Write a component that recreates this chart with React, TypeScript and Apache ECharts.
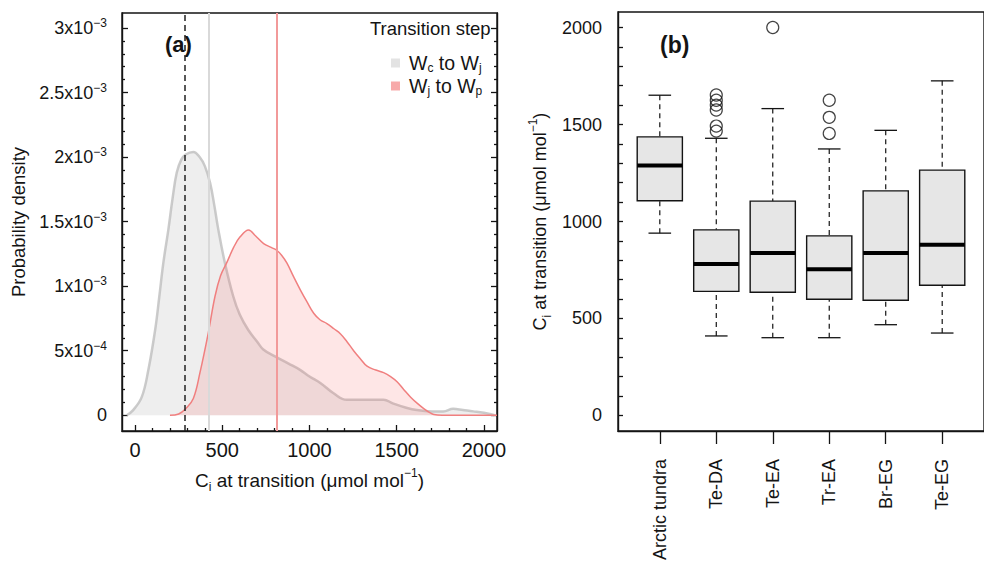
import React, { useEffect, useRef } from 'react';
import * as echarts from 'echarts';

const FONT = '"Liberation Sans", Arial, Helvetica, sans-serif';
const INK = '#141414';

// ---------- Panel (a): probability density of Ci at transition (density in units of 1e-3) ----------
const grayX = [-48, -11, 38, 76, 115, 139, 162, 191, 215, 239, 265, 290, 334, 370, 400, 430, 455, 477, 515, 563, 600, 649, 700, 735, 810, 880, 948, 1000, 1062, 1138, 1214, 1300, 1380, 1424, 1481, 1550, 1615, 1700, 1767, 1824, 1880, 1939, 2034, 2060];
const grayDensityE3 = [0, 0.04, 0.14, 0.35, 0.66, 0.92, 1.18, 1.44, 1.68, 1.88, 1.98, 2.02, 2.04, 2.0, 1.93, 1.8, 1.62, 1.44, 1.18, 0.92, 0.78, 0.66, 0.57, 0.51, 0.45, 0.4, 0.35, 0.3, 0.25, 0.17, 0.12, 0.12, 0.12, 0.12, 0.09, 0.06, 0.04, 0.03, 0.03, 0.05, 0.04, 0.03, 0.01, 0];
const redX = [200, 250, 290, 334, 372, 420, 458, 490, 525, 565, 601, 651, 690, 737, 780, 810, 840, 870, 910, 948, 985, 1024, 1060, 1100, 1140, 1178, 1215, 1253, 1290, 1330, 1380, 1425, 1465, 1502, 1540, 1580, 1620, 1657, 1690, 1713, 1760, 2075];
const redDensityE3 = [0, 0.01, 0.05, 0.13, 0.33, 0.64, 0.92, 1.08, 1.18, 1.3, 1.38, 1.435, 1.39, 1.33, 1.3, 1.28, 1.24, 1.18, 1.07, 0.97, 0.88, 0.79, 0.74, 0.71, 0.67, 0.63, 0.57, 0.5, 0.44, 0.38, 0.35, 0.33, 0.3, 0.26, 0.2, 0.14, 0.09, 0.05, 0.02, 0.005, 0, 0];
const seriesNames = ['Wc to Wj', 'Wj to Wp'];
const legendLabels = ['W{sub|c} to W{sub|j}', 'W{sub|j} to W{sub|p}'];
const refLineDashed = 287;
const refLineGray = 421;
const refLineRed = 810;

const xTicksA = [0, 500, 1000, 1500, 2000];
const xMinorA = [100, 200, 300, 400, 600, 700, 800, 900, 1100, 1200, 1300, 1400, 1600, 1700, 1800, 1900];
const yTicksA = [0, 0.5, 1, 1.5, 2, 2.5, 3];
const yTickLabelsA = ['0', '5x10{s|−4}', '1x10{s|−3}', '1.5x10{s|−3}', '2x10{s|−3}', '2.5x10{s|−3}', '3x10{s|−3}'];
const yMinorA = [0.1, 0.2, 0.3, 0.4, 0.6, 0.7, 0.8, 0.9, 1.1, 1.2, 1.3, 1.4, 1.6, 1.7, 1.8, 1.9, 2.1, 2.2, 2.3, 2.4, 2.6, 2.7, 2.8, 2.9];

// ---------- Panel (b): boxplots of Ci at transition by biome / PFT ----------
const categories = ['Arctic tundra', 'Te-DA', 'Te-EA', 'Tr-EA', 'Br-EG', 'Te-EG'];
const whiskerLow = [940, 410, 401, 401, 468, 425];
const quartile1 = [1107, 640, 635, 599, 594, 671];
const medians = [1289, 781, 837, 754, 837, 880];
const quartile3 = [1436, 957, 1105, 926, 1158, 1265];
const whiskerHigh = [1651, 1429, 1582, 1374, 1470, 1725];
const outlierCategory = [2, 2, 2, 2, 2, 2, 3, 4, 4, 4];
const outlierValue = [1652, 1625, 1600, 1575, 1492, 1466, 2000, 1625, 1537, 1454];
const yTicksB = [0, 500, 1000, 1500, 2000];
const yAllTicksB = [0, 100, 200, 300, 400, 500, 600, 700, 800, 900, 1000, 1100, 1200, 1300, 1400, 1500, 1600, 1700, 1800, 1900, 2000];
const xPositionsB = [1, 2, 3, 4, 5, 6];

const supRich = {
  s: { fontSize: 12, lineHeight: 12, verticalAlign: 'top', fontFamily: FONT, color: INK },
  sub: { fontSize: 12, lineHeight: 12, verticalAlign: 'bottom', fontFamily: FONT, color: INK },
};

export default function App() {
  const ref = useRef<HTMLDivElement>(null);
  useEffect(() => {
    if (!ref.current) return;
    const chart = echarts.init(ref.current, null, { renderer: 'svg' });

    const axisLine = { show: true, onZero: false, lineStyle: { color: INK, width: 1.4 } };
    const noLine = { show: false, onZero: false };
    const tickStyle = { color: INK, width: 1.3 };
    const labelBase = { fontFamily: FONT, fontSize: 18, color: INK };
    const plain = (v: number) => String(v);

    const boxData = categories.map((_, i) => [xPositionsB[i], whiskerLow[i], quartile1[i], medians[i], quartile3[i], whiskerHigh[i]]);
    const outlierData = outlierValue.map((v, i) => [outlierCategory[i], v]);

    const option: any = {
      animation: false,
      backgroundColor: '#ffffff',
      textStyle: { fontFamily: FONT },
      grid: [
        { left: 122, top: 13, width: 375, height: 418, show: true, borderColor: INK, borderWidth: 1.4, backgroundColor: 'transparent' },
        { left: 618, top: 12, width: 375, height: 419, show: true, borderColor: INK, borderWidth: 1.4, backgroundColor: 'transparent' },
      ],
      legend: {
        orient: 'vertical',
        left: 386,
        top: 47,
        icon: 'rect',
        itemWidth: 9,
        itemHeight: 9,
        itemGap: 1,
        selectedMode: false,
        data: [
          { name: seriesNames[0], itemStyle: { color: '#e3e3e3', borderWidth: 0 } },
          { name: seriesNames[1], itemStyle: { color: '#f7aaaa', borderWidth: 0 } },
        ],
        formatter: (n: string) => legendLabels[seriesNames.indexOf(n)],
        textStyle: { ...labelBase, fontSize: 19.5, lineHeight: 22, padding: [0, 0, 0, 4], rich: supRich },
      },
      xAxis: [
        {
          gridIndex: 0, type: 'value', min: -75, max: 2075, position: 'bottom',
          axisLine, splitLine: { show: false },
          axisTick: { show: true, inside: true, length: 6, customValues: xTicksA, lineStyle: tickStyle },
          axisLabel: { ...labelBase, fontSize: 20, customValues: xTicksA, margin: 9, formatter: plain },
          name: 'C{sub|i} at transition (μmol mol{s|−1})',
          nameLocation: 'middle', nameGap: 36,
          nameTextStyle: { ...labelBase, fontSize: 19, lineHeight: 26, rich: supRich },
        },
        {
          gridIndex: 0, type: 'value', min: -75, max: 2075, position: 'bottom',
          axisLine: noLine, splitLine: { show: false },
          axisTick: { show: true, inside: true, length: 3, customValues: xMinorA, lineStyle: tickStyle },
          axisLabel: { show: false },
        },
        {
          gridIndex: 1, type: 'value', min: 0.26, max: 6.74, position: 'bottom',
          axisLine, splitLine: { show: false },
          axisTick: { show: true, inside: false, length: 13, customValues: xPositionsB, lineStyle: tickStyle },
          axisLabel: {
            ...labelBase, customValues: xPositionsB, rotate: 90, margin: 28,
            formatter: (v: number) => categories[Math.round(v) - 1] ?? '',
          },
        },
      ],
      yAxis: [
        {
          gridIndex: 0, type: 'value', min: -0.122, max: 3.116, position: 'left',
          axisLine, splitLine: { show: false },
          axisTick: { show: true, inside: true, length: 6, customValues: yTicksA, lineStyle: tickStyle },
          axisLabel: {
            ...labelBase, customValues: yTicksA, margin: 15, lineHeight: 22, rich: supRich,
            formatter: (v: number) => {
              let best = 0;
              yTicksA.forEach((t, i) => { if (Math.abs(t - v) < Math.abs(yTicksA[best] - v)) best = i; });
              return yTickLabelsA[best];
            },
          },
          name: 'Probability density', nameLocation: 'middle', nameGap: 94,
          nameTextStyle: { ...labelBase, fontSize: 18.5 },
        },
        {
          gridIndex: 0, type: 'value', min: -0.122, max: 3.116, position: 'left',
          axisLine: noLine, splitLine: { show: false },
          axisTick: { show: true, inside: true, length: 3, customValues: yMinorA, lineStyle: tickStyle },
          axisLabel: { show: false },
        },
        {
          gridIndex: 0, type: 'value', min: -0.122, max: 3.116, position: 'right',
          axisLine, splitLine: { show: false },
          axisTick: { show: true, inside: true, length: 6, customValues: yTicksA, lineStyle: tickStyle },
          axisLabel: { show: false },
        },
        {
          gridIndex: 0, type: 'value', min: -0.122, max: 3.116, position: 'right',
          axisLine: noLine, splitLine: { show: false },
          axisTick: { show: true, inside: true, length: 3, customValues: yMinorA, lineStyle: tickStyle },
          axisLabel: { show: false },
        },
        {
          gridIndex: 1, type: 'value', min: -80, max: 2080, position: 'left',
          axisLine, splitLine: { show: false },
          axisTick: { show: true, inside: true, length: 5, customValues: yAllTicksB, lineStyle: tickStyle },
          axisLabel: { ...labelBase, customValues: yTicksB, margin: 16, formatter: plain },
          name: 'C{sub|i} at transition (μmol mol{s|−1})',
          nameLocation: 'middle', nameGap: 65,
          nameTextStyle: { ...labelBase, lineHeight: 26, rich: supRich },
        },
      ],
      series: [
        {
          name: seriesNames[0], type: 'line', xAxisIndex: 0, yAxisIndex: 0,
          data: grayX.map((x, i) => [x, grayDensityE3[i]]),
          smooth: 0.4, showSymbol: false, symbol: 'none',
          itemStyle: { color: '#e3e3e3' },
          lineStyle: { color: 'rgba(190,190,190,0.8)', width: 2.5 },
          areaStyle: { color: 'rgba(200,200,200,0.45)' },
          markLine: {
            silent: true, symbol: ['none', 'none'], label: { show: false },
            data: [
              { xAxis: refLineGray, lineStyle: { color: '#d9d9d9', width: 2, type: 'solid' } },
              { xAxis: refLineDashed, lineStyle: { color: '#222', width: 1.5, type: [6, 4] } },
            ],
          },
          z: 2,
        },
        {
          name: seriesNames[1], type: 'line', xAxisIndex: 0, yAxisIndex: 0,
          data: redX.map((x, i) => [x, redDensityE3[i]]),
          smooth: 0.4, showSymbol: false, symbol: 'none',
          itemStyle: { color: '#f7aaaa' },
          lineStyle: { color: '#f07f7f', width: 1.5 },
          areaStyle: { color: 'rgba(248,100,100,0.23)' },
          markLine: {
            silent: true, symbol: ['none', 'none'], label: { show: false },
            data: [{ xAxis: refLineRed, lineStyle: { color: '#f29a9a', width: 2, type: 'solid' } }],
          },
          z: 3,
        },
        {
          type: 'custom', xAxisIndex: 2, yAxisIndex: 4,
          data: boxData,
          encode: { x: 0, y: [1, 2, 3, 4, 5] },
          renderItem: (_params: any, api: any) => {
            const x = api.value(0);
            const lo = api.coord([x, api.value(1)]);
            const q1 = api.coord([x, api.value(2)]);
            const md = api.coord([x, api.value(3)]);
            const q3 = api.coord([x, api.value(4)]);
            const hi = api.coord([x, api.value(5)]);
            const bw = api.size([0.8, 0])[0];
            const cw = api.size([0.4, 0])[0];
            const cx = lo[0];
            const dash = { stroke: INK, lineWidth: 1.2, lineDash: [5, 4] };
            const solid = { stroke: INK, lineWidth: 1.3 };
            return {
              type: 'group',
              children: [
                { type: 'line', shape: { x1: cx, y1: lo[1], x2: cx, y2: q1[1] }, style: dash },
                { type: 'line', shape: { x1: cx, y1: hi[1], x2: cx, y2: q3[1] }, style: dash },
                { type: 'line', shape: { x1: cx - cw / 2, y1: lo[1], x2: cx + cw / 2, y2: lo[1] }, style: solid },
                { type: 'line', shape: { x1: cx - cw / 2, y1: hi[1], x2: cx + cw / 2, y2: hi[1] }, style: solid },
                { type: 'rect', shape: { x: cx - bw / 2, y: q3[1], width: bw, height: q1[1] - q3[1] }, style: { fill: '#e6e6e6', stroke: INK, lineWidth: 1.4 } },
                { type: 'line', shape: { x1: cx - bw / 2, y1: md[1], x2: cx + bw / 2, y2: md[1] }, style: { stroke: '#000', lineWidth: 4 } },
              ],
            };
          },
          z: 2,
        },
        {
          type: 'scatter', xAxisIndex: 2, yAxisIndex: 4,
          data: outlierData,
          symbol: 'circle', symbolSize: 12,
          itemStyle: { color: 'rgba(255,255,255,0)', borderColor: INK, borderWidth: 1.2 },
          z: 3,
        },
      ],
      graphic: [
        { type: 'text', left: 370, top: 19, style: { text: 'Transition step', font: `18.5px ${FONT}`, fill: INK } },
        { type: 'text', left: 165, top: 33, style: { text: '(a)', font: `bold 22px ${FONT}`, fill: INK } },
        { type: 'text', left: 660, top: 33, style: { text: '(b)', font: `bold 23px ${FONT}`, fill: INK } },
      ],
    };

    chart.setOption(option);
    return () => chart.dispose();
  }, []);

  return (
    <div
      ref={ref}
      style={{ position: 'fixed', left: 0, top: 0, width: 984, height: 566, background: '#fff' }}
    />
  );
}
